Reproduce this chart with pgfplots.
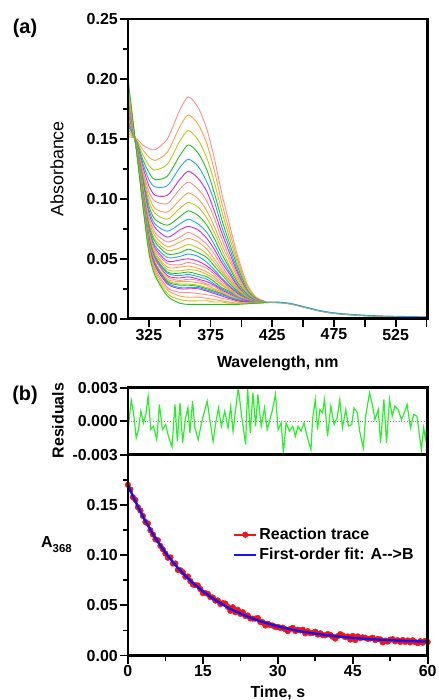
\documentclass[border=0pt]{standalone}
\usepackage{fontspec}
\setmainfont{Liberation Sans}
\usepackage{pgfplots}
\pgfplotsset{compat=1.18}
\usepackage{pgfplotstable}

\definecolor{sA}{RGB}{255,140,140}
\definecolor{sB}{RGB}{255,160,70}
\definecolor{sC}{RGB}{195,195,30}
\definecolor{sD}{RGB}{35,190,35}
\definecolor{sE}{RGB}{30,165,255}
\definecolor{sF}{RGB}{210,40,230}
\definecolor{resgreen}{RGB}{40,240,40}
\definecolor{trred}{RGB}{245,20,20}
\definecolor{fitblue}{RGB}{20,20,235}

\newcommand{\tfont}{\bfseries\fontsize{16}{16}\selectfont}

\pgfplotstableread{
lam c0 c1 c2 c3 c4 c5 c6 c7 c8 c9 c10 c11 c12 c13 c14 c15 c16 c17 c18 c19 c20 c21 c22 c23 c24 c25 c26 c27 c28 c29 c30 c31 c32 c33
308 0.152 0.155 0.158 0.161 0.163 0.166 0.168 0.170 0.171 0.173 0.174 0.176 0.177 0.178 0.179 0.180 0.181 0.182 0.182 0.183 0.184 0.184 0.185 0.185 0.185 0.186 0.186 0.187 0.187 0.187 0.188 0.193 0.196 0.201
315 0.150 0.149 0.148 0.148 0.147 0.146 0.146 0.145 0.145 0.145 0.144 0.144 0.143 0.143 0.143 0.143 0.142 0.142 0.142 0.142 0.142 0.142 0.141 0.141 0.141 0.141 0.141 0.141 0.141 0.141 0.141 0.140 0.140 0.140
320 0.145 0.141 0.137 0.133 0.130 0.127 0.124 0.122 0.120 0.118 0.116 0.114 0.112 0.111 0.109 0.108 0.107 0.106 0.105 0.104 0.103 0.103 0.102 0.101 0.101 0.100 0.100 0.100 0.099 0.099 0.098 0.097 0.096 0.095
325 0.142 0.135 0.128 0.122 0.116 0.111 0.106 0.102 0.098 0.094 0.091 0.088 0.085 0.082 0.080 0.078 0.076 0.074 0.073 0.071 0.070 0.069 0.067 0.066 0.065 0.065 0.064 0.063 0.062 0.062 0.060 0.058 0.057 0.055
330 0.141 0.132 0.124 0.116 0.110 0.103 0.098 0.092 0.088 0.083 0.079 0.076 0.072 0.069 0.066 0.064 0.061 0.059 0.057 0.055 0.054 0.052 0.051 0.050 0.049 0.047 0.046 0.046 0.045 0.044 0.042 0.040 0.038 0.036
340 0.150 0.139 0.129 0.119 0.111 0.103 0.096 0.089 0.083 0.078 0.073 0.068 0.064 0.060 0.057 0.054 0.051 0.048 0.046 0.043 0.041 0.039 0.038 0.036 0.035 0.033 0.032 0.031 0.030 0.029 0.026 0.024 0.021 0.019
350 0.174 0.160 0.148 0.136 0.126 0.116 0.108 0.099 0.092 0.085 0.079 0.074 0.068 0.064 0.059 0.055 0.052 0.049 0.045 0.043 0.040 0.038 0.036 0.034 0.032 0.031 0.029 0.028 0.026 0.025 0.022 0.019 0.016 0.013
357 0.185 0.170 0.157 0.145 0.133 0.123 0.114 0.105 0.097 0.090 0.083 0.077 0.072 0.067 0.062 0.058 0.054 0.050 0.047 0.044 0.041 0.039 0.037 0.035 0.033 0.031 0.029 0.028 0.026 0.025 0.022 0.018 0.015 0.012
365 0.176 0.162 0.149 0.138 0.127 0.117 0.108 0.100 0.093 0.086 0.079 0.074 0.068 0.064 0.059 0.055 0.052 0.048 0.045 0.042 0.040 0.037 0.035 0.033 0.032 0.030 0.028 0.027 0.026 0.025 0.021 0.018 0.015 0.012
372 0.158 0.146 0.134 0.124 0.114 0.106 0.098 0.090 0.084 0.078 0.072 0.067 0.062 0.058 0.054 0.051 0.047 0.044 0.042 0.039 0.037 0.035 0.033 0.031 0.029 0.028 0.026 0.025 0.024 0.023 0.020 0.017 0.015 0.012
378 0.134 0.124 0.114 0.105 0.098 0.090 0.084 0.077 0.072 0.067 0.062 0.058 0.054 0.050 0.047 0.044 0.041 0.039 0.037 0.035 0.033 0.031 0.029 0.028 0.027 0.025 0.024 0.023 0.022 0.021 0.019 0.016 0.014 0.012
384 0.105 0.097 0.090 0.083 0.077 0.072 0.067 0.062 0.058 0.054 0.050 0.047 0.044 0.041 0.039 0.037 0.034 0.033 0.031 0.029 0.028 0.026 0.025 0.024 0.023 0.022 0.021 0.021 0.020 0.019 0.017 0.015 0.014 0.012
390 0.080 0.074 0.069 0.064 0.060 0.056 0.052 0.049 0.045 0.043 0.040 0.038 0.035 0.033 0.032 0.030 0.028 0.027 0.026 0.025 0.024 0.023 0.022 0.021 0.020 0.019 0.019 0.018 0.018 0.017 0.016 0.014 0.013 0.012
397 0.052 0.049 0.046 0.043 0.040 0.038 0.036 0.034 0.032 0.030 0.028 0.027 0.026 0.025 0.024 0.023 0.022 0.021 0.020 0.019 0.019 0.018 0.018 0.017 0.017 0.016 0.016 0.016 0.015 0.015 0.014 0.013 0.013 0.012
405 0.028 0.027 0.026 0.024 0.023 0.022 0.022 0.021 0.020 0.020 0.019 0.018 0.018 0.017 0.017 0.017 0.016 0.016 0.016 0.015 0.015 0.015 0.015 0.015 0.014 0.014 0.014 0.014 0.014 0.014 0.013 0.013 0.013 0.0125
412 0.0180 0.0176 0.0172 0.0168 0.0165 0.0162 0.0159 0.0157 0.0155 0.0152 0.0151 0.0149 0.0147 0.0146 0.0144 0.0143 0.0142 0.0141 0.0140 0.0139 0.0138 0.0138 0.0137 0.0136 0.0136 0.0135 0.0135 0.0135 0.0134 0.0134 0.0133 0.0132 0.0131 0.0130
420 0.0140 0.0139 0.0139 0.0138 0.0138 0.0138 0.0137 0.0137 0.0137 0.0137 0.0137 0.0136 0.0136 0.0136 0.0136 0.0136 0.0136 0.0136 0.0136 0.0136 0.0136 0.0136 0.0136 0.0136 0.0136 0.0136 0.0136 0.0136 0.0136 0.0136 0.0136 0.0136 0.0136 0.0136
}\spectra

\pgfplotstableread{
lam t1 t2 t3 t4
420 0.0133 0.0136 0.0139 0.0137
425 0.0134 0.0137 0.0140 0.0138
430 0.0133 0.0136 0.0139 0.0137
435 0.0129 0.0132 0.0135 0.0133
440 0.0122 0.0125 0.0128 0.0126
445 0.0110 0.0113 0.0116 0.0114
450 0.0097 0.0100 0.0103 0.0101
455 0.0084 0.0087 0.0090 0.0088
460 0.0071 0.0074 0.0077 0.0075
465 0.0060 0.0063 0.0066 0.0064
470 0.0051 0.0054 0.0057 0.0055
475 0.0044 0.0047 0.0050 0.0048
480 0.0038 0.0041 0.0044 0.0042
490 0.0030 0.0033 0.0036 0.0034
500 0.0024 0.0027 0.0030 0.0028
510 0.0019 0.0022 0.0025 0.0023
520 0.0016 0.0019 0.0022 0.0020
530 0.0014 0.0017 0.0020 0.0018
540 0.0012 0.0015 0.0018 0.0016
551 0.0010 0.0013 0.0016 0.0014
}\tail

\pgfplotsset{
  panel/.style={
    scale only axis,
    axis line style={line width=2.4bp},
    every tick/.style={black, line width=1.8bp},
    every minor tick/.style={black, line width=1.6bp},
    major tick length=8bp, minor tick length=5bp,
    tick align=outside, tick pos=left,
    ticklabel style={font=\tfont},
    xticklabel style={inner sep=2bp},
    yticklabel style={inner sep=2bp},
    scaled ticks=false,
  }
}

\begin{document}
\begin{tikzpicture}[x=1bp,y=1bp]
\path (0,0) rectangle (438,700);

% ---------- panel (a)
\begin{axis}[panel, at={(128bp,381bp)}, anchor=south west,
  width=300bp, height=300bp,
  xmin=308, xmax=551, ymin=0, ymax=0.25,
  xtick={325,350,375,400,425,450,475,500,525,550},
  xticklabels={325,{},375,{},425,{},475,{},525,{}},
  ytick={0,0.05,0.1,0.15,0.2,0.25},
  yticklabels={0.00,0.05,0.10,0.15,0.20,0.25},
  minor ytick={0.025,0.075,0.125,0.175,0.225},
  cycle list={{sA},{sB},{sC},{sD},{sE},{sF}},
  every axis plot/.append style={line width=0.9bp, no markers},
]
\pgfplotsinvokeforeach{0,...,33}{
  \addplot+[smooth, tension=0.45] table[x=lam, y=c#1] {\spectra};
}
\addplot[sD, line width=0.9bp] table[x=lam, y=t1] {\tail};
\addplot[sA, line width=0.9bp] table[x=lam, y=t4] {\tail};
\addplot[sB, line width=0.9bp] table[x=lam, y=t2] {\tail};
\addplot[sE, line width=0.9bp] table[x=lam, y=t3] {\tail};
\end{axis}

% ---------- residuals
\begin{axis}[panel, at={(128bp,245bp)}, anchor=south west,
  width=300bp, height=67bp,
  xmin=0, xmax=60, ymin=-0.003, ymax=0.003,
  xtick=\empty,
  ytick={-0.003,0,0.003},
  yticklabels={-0.003,0.000,0.003},
]
\addplot[gray, dotted, line width=0.8bp] coordinates {(0,0) (60,0)};
\addplot[resgreen, line width=1.2bp] coordinates {
(0,-0.0009) (0.66,0.00189) (1.13,0.00075) (1.66,-0.0015) (2.12,-0.00075) (2.59,0.0009) (3.12,-0.00015) (3.58,0.0006) (4.05,0.00225) (4.58,-0.00075) (5.11,-0.00045) (5.77,-0.00165) (6.30,0.0015) (6.90,-0.00075) (7.56,-0.0003) (8.10,-0.00135) (8.83,-0.00231) (9.42,0.0015) (9.89,-0.0018) (10.42,0.00165) (10.95,-0.00195) (11.48,0.00015) (12.01,0.0012) (12.41,-0.00105) (12.94,0.0018) (13.40,-0.0006) (14.07,-0.00165) (14.73,-0.00015) (15.86,0.0018) (16.39,0.00015) (17.05,-0.0018) (17.58,-0.00015) (18.12,0.0012) (18.71,-0.00045) (19.38,0.0009) (20.04,-0.0006) (20.57,0.00135) (21.04,-0.0009) (21.70,0.00165) (22.10,0.003) (22.76,0.00045) (23.56,-0.0021) (23.96,0.003) (24.49,-0.00105) (25.02,0.00255) (25.55,-0.00045) (26.01,0.0024) (26.68,-0.00045) (27.34,0.0012) (27.87,-0.00075) (28.34,0) (28.87,0.0009) (29.53,0.0024) (30.06,-0.00075) (30.66,-0.00015) (31.12,-0.00285) (31.65,-0.00015) (32.32,-0.0009) (32.98,-0.00045) (33.51,-0.00135) (34.04,-0.00045) (34.64,-0.0009) (35.24,-0.00015) (35.77,-0.0012) (36.63,-0.00255) (36.96,0.00015) (37.49,0.00195) (37.96,-0.00075) (38.42,0.00105) (38.95,0.00075) (39.35,0.00195) (39.95,-0.00135) (40.61,0.00135) (41.27,-0.0003) (41.87,0.0003) (42.40,0.00195) (42.93,-0.0006) (43.60,0.00105) (44.13,-0.00045) (44.79,-0.0003) (45.26,0.0012) (45.92,0.00075) (46.38,-0.0009) (47.11,-0.0024) (47.58,0.00045) (48.37,0.00255) (48.91,0.0015) (49.44,0.00015) (50.10,0.00105) (50.56,-0.00195) (51.23,0.00195) (51.76,-0.00195) (52.36,0.00195) (52.89,0.00045) (53.42,0.00135) (54.08,0.00105) (54.74,0.00015) (55.21,0.0006) (55.87,0.0015) (56.54,-0.0006) (57.20,0.0006) (57.86,0.00045) (58.73,-0.00255) (59.19,-0.0006) (59.52,-0.0015) (60,0.0006)
};
\end{axis}

% ---------- kinetic trace
\begin{axis}[panel, at={(128bp,44bp)}, anchor=south west,
  width=300bp, height=201bp,
  xmin=0, xmax=60, ymin=0, ymax=0.2,
  xtick={0,15,30,45,60},
  xticklabels={0,15,30,45,60},
  minor xtick={7.5,22.5,37.5,52.5},
  ytick={0,0.05,0.1,0.15},
  yticklabels={0.00,0.05,0.10,0.15},
  minor ytick={0.025,0.075,0.125,0.175},
  legend style={at={(0.35,0.645)}, anchor=north west, draw=none, fill=none,
    font=\tfont, row sep=3bp, inner sep=0pt,
    nodes={inner sep=2bp}},
  legend cell align=left,
  legend image code/.code={\draw[mark repeat=2, mark phase=2, #1] plot coordinates {(0bp,0bp) (11bp,0bp) (22bp,0bp)};},
  clip mode=individual,
]
\addplot[trred, line width=2bp, mark=*, mark size=2.8bp, mark options={fill=trred, draw=trred, line width=0.5bp}] coordinates {
(0,0.1700) (0.5,0.1653) (1,0.1577) (1.5,0.1550) (2,0.1477) (2.5,0.1444) (3,0.1390) (3.5,0.1330) (4,0.1315) (4.5,0.1248) (5,0.1206) (5.5,0.1157) (6,0.1148) (6.5,0.1092) (7,0.1058) (7.5,0.1016) (8,0.0974) (8.5,0.0978) (9,0.0916) (9.5,0.0917) (10,0.0853) (10.5,0.0849) (11,0.0830) (11.5,0.0785) (12,0.0788) (12.5,0.0741) (13,0.0707) (13.5,0.0702) (14,0.0698) (14.5,0.0662) (15,0.0622) (15.5,0.0622) (16,0.0615) (16.5,0.0582) (17,0.0578) (17.5,0.0547) (18,0.0549) (18.5,0.0513) (19,0.0523) (19.5,0.0518) (20,0.0484) (20.5,0.0445) (21,0.0481) (21.5,0.0432) (22,0.0455) (22.5,0.0415) (23,0.0432) (23.5,0.0394) (24,0.0399) (24.5,0.0370) (25,0.0368) (25.5,0.0368) (26,0.0374) (26.5,0.0334) (27,0.0332) (27.5,0.0299) (28,0.0317) (28.5,0.0303) (29,0.0299) (29.5,0.0285) (30,0.0286) (30.5,0.0276) (31,0.0277) (31.5,0.0262) (32,0.0243) (32.5,0.0265) (33,0.0276) (33.5,0.0244) (34,0.0257) (34.5,0.0251) (35,0.0257) (35.5,0.0221) (36,0.0243) (36.5,0.0223) (37,0.0225) (37.5,0.0238) (38,0.0209) (38.5,0.0222) (39,0.0204) (39.5,0.0202) (40,0.0214) (40.5,0.0206) (41,0.0187) (41.5,0.0169) (42,0.0194) (42.5,0.0213) (43,0.0200) (43.5,0.0184) (44,0.0191) (44.5,0.0159) (45,0.0195) (45.5,0.0155) (46,0.0191) (46.5,0.0174) (47,0.0182) (47.5,0.0177) (48,0.0166) (48.5,0.0170) (49,0.0177) (49.5,0.0154) (50,0.0165) (50.5,0.0161) (51,0.0131) (51.5,0.0149) (52,0.0139) (52.5,0.0158) (53,0.0163) (53.5,0.0141) (54,0.0153) (54.5,0.0136) (55,0.0155) (55.5,0.0136) (56,0.0150) (56.5,0.0131) (57,0.0152) (57.5,0.0135) (58,0.0124) (58.5,0.0143) (59,0.0128) (59.5,0.0146) (60,0.0135)
};
\addlegendentry{Reaction trace}
\addplot[fitblue, line width=2.4bp] coordinates {
(0,0.1700) (1,0.1587) (2,0.1482) (3,0.1385) (4,0.1295) (5,0.1211) (6,0.1133) (7,0.1061) (8,0.0994) (9,0.0931) (10,0.0873) (11,0.0820) (12,0.0770) (13,0.0723) (14,0.0680) (15,0.0640) (16,0.0603) (17,0.0569) (18,0.0536) (19,0.0507) (20,0.0479) (21,0.0453) (22,0.0430) (23,0.0408) (24,0.0387) (25,0.0368) (26,0.0350) (27,0.0334) (28,0.0319) (29,0.0304) (30,0.0291) (31,0.0279) (32,0.0268) (33,0.0257) (34,0.0247) (35,0.0238) (36,0.0230) (37,0.0222) (38,0.0215) (39,0.0208) (40,0.0202) (41,0.0196) (42,0.0190) (43,0.0185) (44,0.0181) (45,0.0176) (46,0.0172) (47,0.0169) (48,0.0165) (49,0.0162) (50,0.0159) (51,0.0156) (52,0.0154) (53,0.0151) (54,0.0149) (55,0.0147) (56,0.0145) (57,0.0143) (58,0.0142) (59,0.0140) (60,0.0139)
};
\addlegendentry{First-order fit: A-{}-{}>B}
\end{axis}

% ---------- heavy frames
\draw[black, line width=2.8bp] (128,381) rectangle (428,681);
\draw[black, line width=2.8bp] (128,245) rectangle (428,312);
\draw[black, line width=2.8bp] (128,44) rectangle (428,245);

% ---------- labels
\node[font=\bfseries\fontsize{20}{20}\selectfont] at (25,672) {(a)};
\node[font=\bfseries\fontsize{20}{20}\selectfont] at (25,304) {(b)};
\node[rotate=90, font=\fontsize{18}{18}\selectfont] at (57,531) {Absorbance};
\node[anchor=base, font=\tfont, inner sep=0pt] at (278,332) {Wavelength, nm};
\node[rotate=90, font=\tfont] at (58,279) {Residuals};
\node[anchor=base west, font=\tfont, inner sep=0pt] at (41,152) {A\raisebox{-4.5bp}{\fontsize{11.5}{11.5}\selectfont 368}};
\node[anchor=base, font=\tfont, inner sep=0pt] at (278,2) {Time, s};
\end{tikzpicture}
\end{document}
